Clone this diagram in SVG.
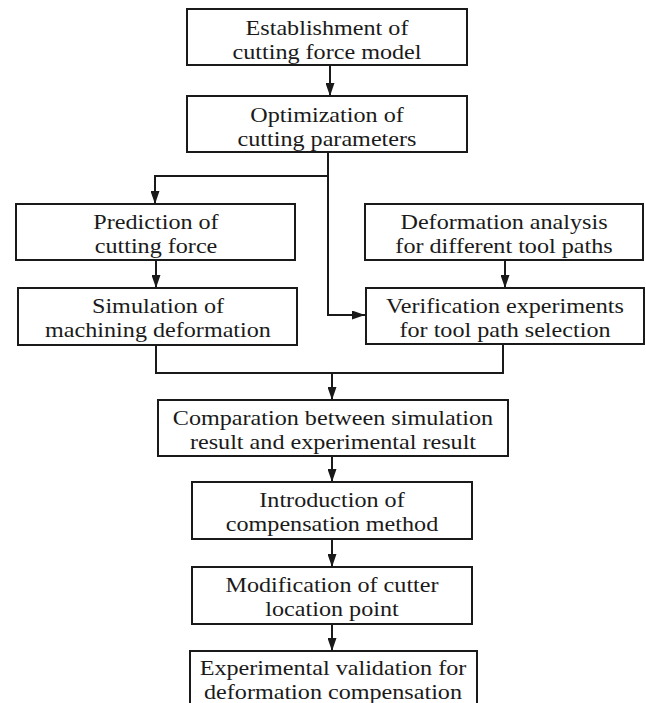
<svg xmlns="http://www.w3.org/2000/svg" width="646" height="703" viewBox="0 0 646 703">
<defs>
<style>
.box{fill:#fff;stroke:#1a1a1a;stroke-width:2}
.t{font-family:"Liberation Serif","Times New Roman",serif;font-size:21px;fill:#1a1a1a;text-anchor:middle}
.c{fill:none;stroke:#1a1a1a;stroke-width:2}
</style>
<marker id="ah" markerUnits="userSpaceOnUse" markerWidth="13" markerHeight="9" viewBox="0 0 13 9" refX="13" refY="4.5" orient="auto">
<path d="M0,0 L13,4.5 L0,9 z" fill="#1a1a1a"/>
</marker>
</defs>
<rect width="646" height="703" fill="#fff"/>
<g id="connectors">
<path class="c" d="M330,65 V96" marker-end="url(#ah)"/>
<path class="c" d="M328,152 V176 H155 V204" marker-end="url(#ah)"/>
<path class="c" d="M328,176 V315 H365" marker-end="url(#ah)"/>
<path class="c" d="M156,260 V288" marker-end="url(#ah)"/>
<path class="c" d="M505,260 V288" marker-end="url(#ah)"/>
<path class="c" d="M156,345 V373 H503 V344"/>
<path class="c" d="M332,373 V400" marker-end="url(#ah)"/>
<path class="c" d="M332,456 V482" marker-end="url(#ah)"/>
<path class="c" d="M332,539 V567" marker-end="url(#ah)"/>
<path class="c" d="M332,624 V651" marker-end="url(#ah)"/>
</g>
<g id="n1"><rect class="box" x="187" y="9" width="280" height="56"/><text class="t" transform="translate(327,35) scale(1.15,1)" x="0" y="0">Establishment of<tspan x="0" dy="24.3">cutting force model</tspan></text></g>
<g id="n2"><rect class="box" x="187" y="96" width="280" height="56"/><text class="t" transform="translate(327,122) scale(1.15,1)" x="0" y="0">Optimization of<tspan x="0" dy="24.3">cutting parameters</tspan></text></g>
<g id="n3"><rect class="box" x="16" y="204" width="279" height="56"/><text class="t" transform="translate(156,229) scale(1.15,1)" x="0" y="0">Prediction of<tspan x="0" dy="24.3">cutting force</tspan></text></g>
<g id="n4"><rect class="box" x="18" y="288" width="279" height="57"/><text class="t" transform="translate(158,313) scale(1.15,1)" x="0" y="0">Simulation of<tspan x="0" dy="24.3">machining deformation</tspan></text></g>
<g id="n5"><rect class="box" x="365" y="204" width="278" height="56"/><text class="t" transform="translate(504,229) scale(1.15,1)" x="0" y="0">Deformation analysis<tspan x="0" dy="24.3">for different tool paths</tspan></text></g>
<g id="n6"><rect class="box" x="366" y="288" width="278" height="56"/><text class="t" transform="translate(505,313) scale(1.15,1)" x="0" y="0">Verification experiments<tspan x="0" dy="24.3">for tool path selection</tspan></text></g>
<g id="n7"><rect class="box" x="158" y="400" width="350" height="56"/><text class="t" transform="translate(333,425) scale(1.15,1)" x="0" y="0">Comparation between simulation<tspan x="0" dy="24.3">result and experimental result</tspan></text></g>
<g id="n8"><rect class="box" x="192" y="482" width="280" height="57"/><text class="t" transform="translate(332,507) scale(1.15,1)" x="0" y="0">Introduction of<tspan x="0" dy="24.3">compensation method</tspan></text></g>
<g id="n9"><rect class="box" x="192" y="567" width="280" height="57"/><text class="t" transform="translate(332,592) scale(1.15,1)" x="0" y="0">Modification of cutter<tspan x="0" dy="24.3">location point</tspan></text></g>
<g id="n10"><rect class="box" x="190" y="651" width="287" height="60"/><text class="t" transform="translate(333,675) scale(1.15,1)" x="0" y="0">Experimental validation for<tspan x="0" dy="24.3">deformation compensation</tspan></text></g>
</svg>
